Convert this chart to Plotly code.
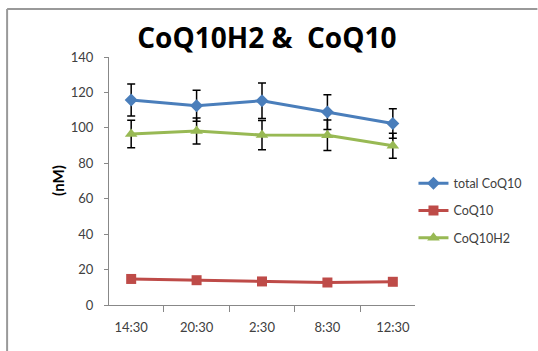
import plotly.graph_objects as go

times = ["14:30", "20:30", "2:30", "8:30", "12:30"]
total_coq10 = [115.7, 112.5, 115.3, 108.9, 102.5]
total_err = [9.0, 8.7, 10.0, 9.8, 8.3]
coq10 = [14.7, 14.0, 13.3, 12.7, 13.1]
coq10h2 = [96.5, 98.2, 95.9, 95.8, 89.9]
coq10h2_err = [7.8, 7.3, 8.2, 8.6, 7.1]
y_ticks = [0, 20, 40, 60, 80, 100, 120, 140]

font_family = "Lato, 'Liberation Sans', sans-serif"

fig = go.Figure()
fig.add_trace(go.Scatter(
    x=times, y=total_coq10, name="total CoQ10", mode="lines+markers",
    line=dict(color="#4A7EBB", width=3),
    marker=dict(symbol="diamond", size=10, color="#4A7EBB"),
    error_y=dict(type="data", array=total_err, color="black", thickness=1.5, width=4),
    legendgroup="a",
))
fig.add_trace(go.Scatter(
    x=times, y=coq10, name="CoQ10", mode="lines+markers",
    line=dict(color="#BE4B48", width=3),
    marker=dict(symbol="square", size=10, color="#BE4B48"),
    legendgroup="b",
))
fig.add_trace(go.Scatter(
    x=times, y=coq10h2, name="CoQ10H2", mode="lines+markers",
    line=dict(color="#98B954", width=3),
    marker=dict(symbol="triangle-up", size=11, color="#98B954"),
    error_y=dict(type="data", array=coq10h2_err, color="black", thickness=1.5, width=4),
    legendgroup="c",
))

fig.update_layout(
    width=538, height=351,
    margin=dict(l=109, r=117, t=57, b=46),
    paper_bgcolor="white", plot_bgcolor="white",
    font=dict(family=font_family, size=13, color="#404040"),
    title=dict(text="<b>CoQ10H2 &  CoQ10</b>", x=0.516, xref="paper", xanchor="center",
               y=1 - 38 / 351, yref="container", yanchor="middle",
               font=dict(size=28, color="black", family="'Open Sans', Lato, sans-serif")),
    showlegend=True,
    legend=dict(x=0.995, y=0.55, xanchor="left", yanchor="top",
                font=dict(size=12.5, color="#404040"), itemwidth=30,
                tracegroupgap=8, traceorder="grouped", bgcolor="rgba(0,0,0,0)"),
    shapes=[
        dict(type="line", xref="paper", yref="paper", x0=-0.333, x1=1.4, y0=1.194, y1=1.194,
             line=dict(color="#999999", width=2)),
        dict(type="line", xref="paper", yref="paper", x0=-0.333, x1=-0.333, y0=1.194, y1=-0.2,
             line=dict(color="#999999", width=2)),
    ],
    annotations=[
        dict(text="<b>(nM)</b>", xref="paper", yref="paper", x=-0.167, y=0.504,
             textangle=-90, showarrow=False, font=dict(size=15, color="black"),
             xanchor="center", yanchor="middle"),
    ],
)
fig.update_xaxes(
    type="category", showline=True, linecolor="#888888", linewidth=1,
    ticks="outside", tickson="boundaries", ticklen=6, tickcolor="#888888",
    ticklabelstandoff=10, showgrid=False, zeroline=False,
)
fig.update_yaxes(
    range=[0, 140], tickvals=y_ticks, showline=True, linecolor="#888888", linewidth=1,
    ticks="outside", ticklen=4, tickcolor="#888888", ticklabelstandoff=8,
    showgrid=False, zeroline=False,
)

fig.write_html("out.html", config={"displayModeBar": False},
               post_script="document.body.style.margin='0';")
